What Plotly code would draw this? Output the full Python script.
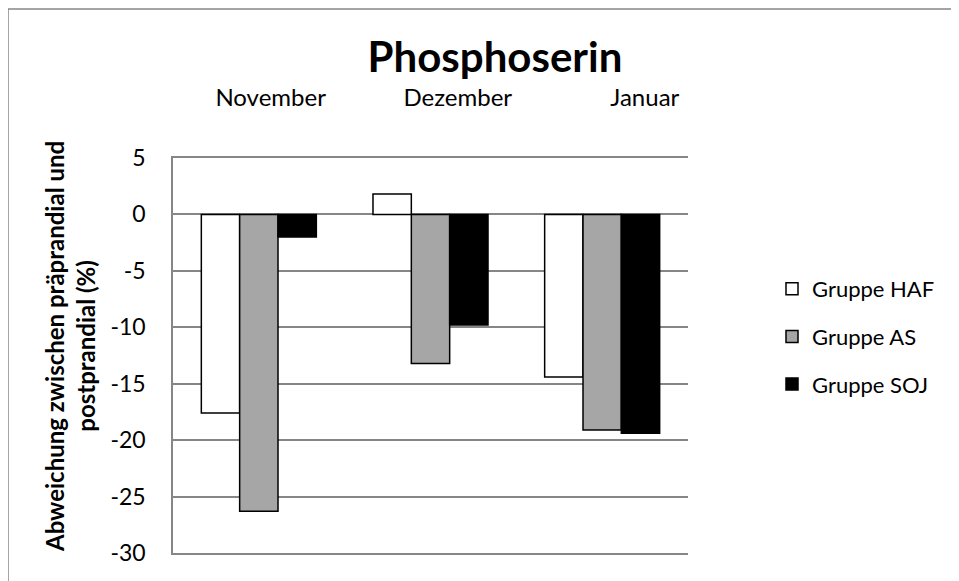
import plotly.graph_objects as go

months = ["November", "Dezember", "Januar"]
gruppe_haf = [-17.6, 1.8, -14.4]
gruppe_as = [-26.3, -13.2, -19.1]
gruppe_soj = [-2.0, -9.8, -19.4]
y_ticks = [5, 0, -5, -10, -15, -20, -25, -30]

FONT = "Lato"
GRID = "#868686"
OFF = 8  # default page body margin

W, H = 959 - OFF, 581 - OFF
L, R_EDGE, T, B_EDGE = 173 - OFF, 688 - OFF, 158 - OFF, 553 - OFF
PW, PH = R_EDGE - L, B_EDGE - T


def px(xr):
    return (xr - OFF - L) / PW


def py(yr):
    return (B_EDGE - (yr - OFF)) / PH


fig = go.Figure()
series = [
    ("Gruppe HAF", gruppe_haf, "#ffffff"),
    ("Gruppe AS", gruppe_as, "#a6a6a6"),
    ("Gruppe SOJ", gruppe_soj, "#000000"),
]
for name, vals, col in series:
    fig.add_trace(go.Bar(
        x=list(range(len(months))), y=vals, name=name, legendgroup=name,
        marker=dict(color=col, line=dict(color="#000000", width=1.5)),
    ))

# invisible trace to carry the top category labels
fig.add_trace(go.Scatter(x=list(range(len(months))), y=[None] * len(months),
                         xaxis="x2", showlegend=False, hoverinfo="skip"))

fig.update_layout(
    width=W, height=H,
    margin=dict(l=L, r=W - R_EDGE, t=T, b=H - B_EDGE, pad=0),
    paper_bgcolor="white", plot_bgcolor="white",
    font=dict(family=FONT, color="#000000", size=22),
    barmode="group", bargap=0.33, bargroupgap=0,
    title=dict(text="<b>Phosphoserin</b>", font=dict(family=FONT, size=42),
               x=(495 - OFF) / W, xref="container", xanchor="center",
               y=1 - (57 - OFF) / H, yref="container", yanchor="middle"),
    xaxis=dict(range=[-0.5, 2.5], showticklabels=False, ticks="",
               showgrid=False, zeroline=False, showline=True,
               linecolor=GRID, linewidth=1.5, mirror=True),
    xaxis2=dict(overlaying="x", side="top", range=[-0.522, 2.231],
                tickvals=list(range(len(months))), ticktext=months,
                showgrid=False, zeroline=False, showline=False, ticks="",
                tickfont=dict(size=24), ticklabelstandoff=46),
    yaxis=dict(range=[-30, 5], tickvals=y_ticks, ticktext=[str(v) for v in y_ticks],
               showgrid=True, gridcolor=GRID, gridwidth=1.5,
               zeroline=False, showline=True, linecolor=GRID, linewidth=1.5,
               ticks="", tickfont=dict(size=23), ticklabelstandoff=21),
    legend=dict(x=px(772), y=py(268), xanchor="left", yanchor="top",
                font=dict(size=22), tracegroupgap=16, bgcolor="rgba(0,0,0,0)"),
    showlegend=True,
    annotations=[dict(
        text="<b>Abweichung zwischen präprandial und<br>postprandial (%)</b>",
        textangle=-90, xref="paper", yref="paper",
        x=px(70), y=py(347), xanchor="center", yanchor="middle",
        showarrow=False, font=dict(family=FONT, size=24))],
    shapes=[dict(type="rect", xref="paper", yref="paper",
                 x0=px(8), x1=2.0, y0=-1.0, y1=py(9),
                 line=dict(color=GRID, width=1.5), fillcolor="rgba(0,0,0,0)", layer="below")],
)

fig.write_html("out.html")
